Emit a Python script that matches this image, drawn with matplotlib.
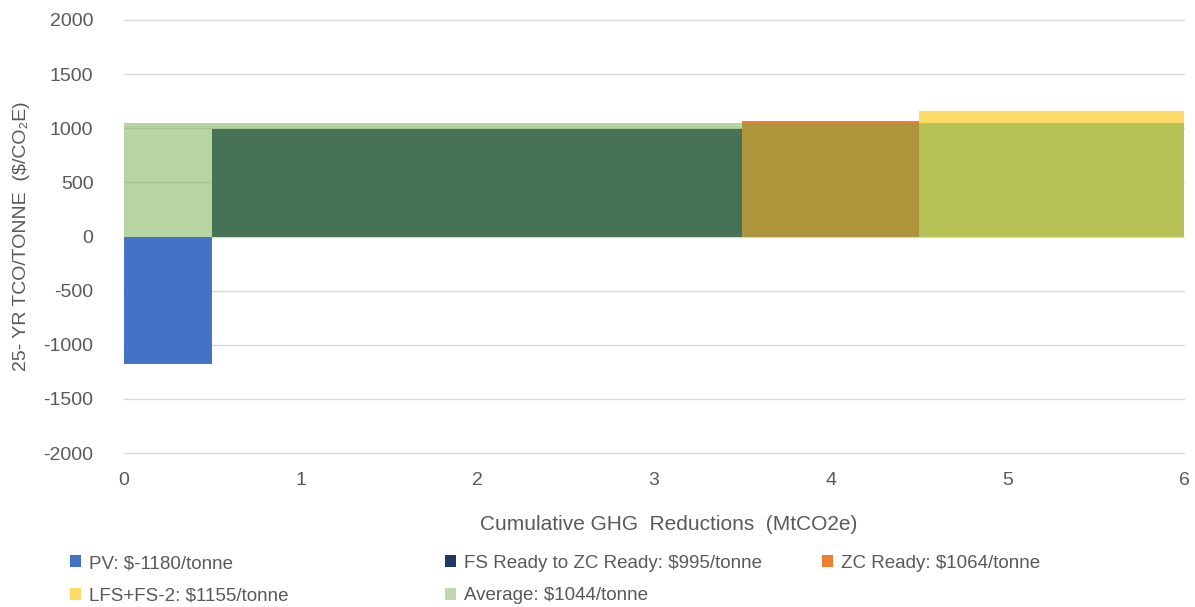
import matplotlib
matplotlib.use("Agg")
import matplotlib.pyplot as plt
from matplotlib.patches import Patch

plt.rcParams['font.family'] = ['Liberation Sans', 'DejaVu Sans']
plt.rcParams['axes.unicode_minus'] = False

# Abatement measures: label, reduction width (MtCO2e), cost ($/tonne)
measures = ["PV", "FS Ready to ZC Ready", "ZC Ready", "LFS+FS-2"]
reductions = [0.5, 3.0, 1.0, 1.5]
costs = [-1180, 995, 1064, 1155]
average_cost = 1044

y_ticks = [-2000, -1500, -1000, -500, 0, 500, 1000, 1500, 2000]
x_ticks = [0, 1, 2, 3, 4, 5, 6]

colors = ["#4472C4", "#203864", "#ED7D31", "#FFD966"]
avg_color = "#70AD47"
text_color = "#595959"

fig = plt.figure(figsize=(11.95, 6.07), dpi=100)
ax = fig.add_axes([124 / 1195, 1 - 453 / 607, (1184 - 124) / 1195, (453 - 20) / 607])

# Bars laid out end to end along the cumulative reduction axis
starts = []
pos = 0.0
for w in reductions:
    starts.append(pos)
    pos += w

for x0, w, c, col in zip(starts, reductions, costs, colors):
    ax.bar(x0, c, width=w, align='edge', color=col, linewidth=0, zorder=2)

# Average cost band spanning the whole cumulative reduction
ax.bar(0, average_cost, width=sum(reductions), align='edge', color=avg_color,
       alpha=0.5, linewidth=0, zorder=3)

ax.set_xlim(0, 6)
ax.set_ylim(-2000, 2000)
ax.set_yticks(y_ticks)
ax.set_xticks(x_ticks)
ax.grid(axis='y', color="#D9D9D9", linewidth=1.0, zorder=0)
for gl in ax.get_ygridlines():
    gl.set_clip_on(False)
ax.set_axisbelow(True)
for s in ax.spines.values():
    s.set_visible(False)
ax.tick_params(axis='both', length=0, labelsize=14, labelcolor=text_color)
ax.tick_params(axis='y', pad=22)
ax.tick_params(axis='x', pad=14)

fig.text(22 / 1195, 1 - 236 / 607, "25- YR TCO/TONNE  ($/CO\u2082E)", rotation=90,
         fontsize=14, color=text_color, ha='center', va='center')
fig.text(669 / 1195, 1 - 524 / 607, "Cumulative GHG  Reductions  (MtCO2e)",
         fontsize=15, color=text_color, ha='center', va='center')

labels = [f"{m}: ${c}/tonne" for m, c in zip(measures, costs)]
avg_label = f"Average: ${average_cost}/tonne"
handles = [Patch(facecolor=col, edgecolor='none') for col in colors]
avg_handle = Patch(facecolor=avg_color, alpha=0.45, edgecolor='none')

columns = [
    ([handles[0], handles[3]], [labels[0], labels[3]], 70),
    ([handles[1], avg_handle], [labels[1], avg_label], 445),
    ([handles[2]], [labels[2]], 822),
]
for hs, ls, xpix in columns:
    leg = fig.legend(hs, ls, loc='upper left', bbox_to_anchor=(xpix / 1195, 1 - 555 / 607),
                     frameon=False, fontsize=13.5, handlelength=0.6, handleheight=0.6,
                     handletextpad=0.4, borderpad=0, borderaxespad=0, labelspacing=0.82)
    for t in leg.get_texts():
        t.set_color(text_color)

fig.savefig("out.png", dpi=100)
